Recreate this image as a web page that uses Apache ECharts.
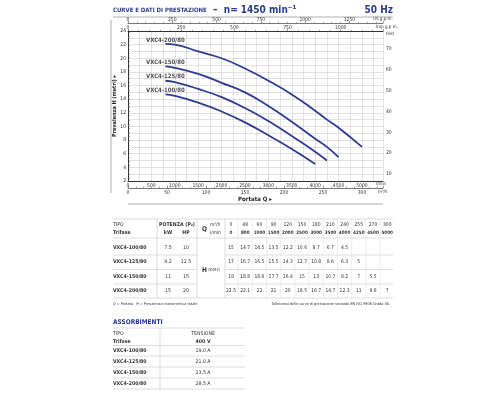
<!DOCTYPE html>
<html><head><meta charset="utf-8">
<script src="https://cdn.jsdelivr.net/npm/echarts@6/dist/echarts.min.js"></script>
<style>html,body{margin:0;padding:0;background:#fff}#c{width:500px;height:400px}</style>
</head><body><div id="c"></div>
<script>
// ---- data ----
const qLmin = [0, 800, 1000, 1500, 2000, 2500, 3000, 3500, 4000, 4250, 4500, 5000];
const qM3h = [0, 48, 60, 90, 120, 150, 180, 210, 240, 255, 270, 300];
const models = ['VXC4-100/80', 'VXC4-125/80', 'VXC4-150/80', 'VXC4-200/80'];
const powerKW = ['7.5', '9.2', '11', '15'];
const powerHP = ['10', '12.5', '15', '20'];
const h100 = [15, 14.7, 14.5, 13.5, 12.2, 10.6, 8.7, 6.7, 4.5];
const h125 = [17, 16.7, 16.5, 15.5, 14.3, 12.7, 10.8, 8.6, 6.3, 5];
const h150 = [19, 18.8, 18.6, 17.7, 16.4, 15, 13, 10.7, 8.2, 7, 5.5];
const h200 = [22.5, 22.1, 22, 21, 20, 18.5, 16.7, 14.7, 12.3, 11, 9.8, 7];
const currents = ['19.0 A', '21.0 A', '23.5 A', '28.5 A'];
const feetTicks = [10, 20, 30, 40, 50, 60, 70];

const heads = [h100, h125, h150, h200];
const FONT = "'Liberation Sans Narrow','DejaVu Sans Condensed','Liberation Sans',sans-serif";
const BLUE = '#2b3a8c';
const CURVE = '#2e3b91';
const TXT = '#333';
const XMAX = 5450;
const FT = 3.28084;

const chart = echarts.init(document.getElementById('c'), null, {renderer: 'canvas'});

const curveSeries = heads.map((h, k) => ({
  type: 'line', name: models[k], xAxisIndex: 0, yAxisIndex: 0,
  data: h.slice(1).map((v, i) => [qLmin[i + 1], v]),
  showSymbol: false, smooth: 0.5, lineStyle: {color: CURVE, width: 1.8}, silent: true, z: 5
}));
const labelSeries = {
  type: 'scatter', xAxisIndex: 0, yAxisIndex: 0, symbolSize: 0, silent: true,
  data: heads.map((h, k) => ({value: [qLmin[1], h[1]], name: models[k]})),
  label: {show: true, position: 'inside', offset: [0, -4], formatter: p => p.name,
    fontFamily: FONT, fontSize: 6, fontWeight: 'bold', color: '#222'}
};

const gridLine = {show: true, lineStyle: {color: '#cfcfcf', width: 0.6}};
const lab = (m) => ({fontFamily: FONT, fontSize: 5, color: TXT, margin: m, formatter: v => String(v)});

// ---- tables (graphic text built from arrays) ----
const g = [];
function T(x, y, s, o) {
  g.push(Object.assign({type: 'text', x: x, y: y, silent: true,
    style: Object.assign({text: s, fontFamily: FONT, fontSize: 5.2, fill: TXT, align: 'left', verticalAlign: 'middle'}, o || {})}));
}
function L(x1, y1, x2, y2, c, w) {
  g.push({type: 'line', silent: true, shape: {x1: x1, y1: y1, x2: x2, y2: y2}, style: {stroke: c || '#c8c8c8', lineWidth: w || 0.6}});
}
// header
T(113, 10, '{a|CURVE E DATI DI PRESTAZIONE}{b|  –  n= 1450 min⁻¹}', {rich: {
  a: {fontFamily: FONT, fontSize: 6, fontWeight: 'bold', fill: BLUE},
  b: {fontFamily: FONT, fontSize: 10, fontWeight: 'bold', fill: BLUE}}});
T(393, 10, '50 Hz', {fontSize: 10, fontWeight: 'bold', fill: BLUE, align: 'right'});
L(113, 17, 393, 17, '#9a9a9a', 0.8);
L(111, 20, 111, 193, '#9a9a9a', 0.8);
L(128, 204, 383, 204, '#9a9a9a', 0.8);
T(255, 199, 'Portata Q ▸', {fontSize: 6, fontWeight: 'bold', align: 'center', fill: '#222'});
g.push({type: 'text', x: 115, y: 106, rotation: Math.PI / 2, silent: true,
  style: {text: 'Prevalenza H (metri) ▸', fontFamily: FONT, fontSize: 5.5, fontWeight: 'bold', fill: '#222', align: 'center', verticalAlign: 'middle'}});
T(386, 34, 'feet', {fontSize: 4.5});
T(376, 184, 'l/min', {fontSize: 4.5});
T(378, 192, 'm³/h', {fontSize: 4.5});
T(373, 19, 'US g.p.m.', {fontSize: 4.5});
T(376, 27, 'Imp g.p.m.', {fontSize: 4.5});

// main table
const colX = qLmin.map((_, i) => 231 + i * 14.2);
const rowY = [248, 262, 277, 291];
L(113, 219, 393, 219);
L(113, 238, 393, 238);
T(113, 225, 'TIPO');
T(113, 233, 'Trifase', {fontWeight: 'bold'});
T(177, 225, 'POTENZA (P₂)', {align: 'center', fontWeight: 'bold'});
T(168, 233, 'kW', {align: 'center', fontWeight: 'bold'});
T(186, 233, 'HP', {align: 'center', fontWeight: 'bold'});
T(202, 229, 'Q', {fontWeight: 'bold', fontSize: 6.5});
T(210, 225, 'm³/h', {fontSize: 4.8});
T(210, 233, 'l/min', {fontSize: 4.8});
T(202, 270, '{h|H} metri', {fontSize: 4.8, rich: {h: {fontFamily: FONT, fontWeight: 'bold', fontSize: 6.5, fill: TXT}}});
qM3h.forEach((v, i) => T(colX[i], 225, String(v), {align: 'center', fontSize: 5}));
qLmin.forEach((v, i) => T(colX[i], 233, String(v), {align: 'center', fontWeight: 'bold', fontSize: 4.6}));
models.forEach((m, k) => {
  T(113, rowY[k], m, {fontWeight: 'bold'});
  T(168, rowY[k], powerKW[k], {align: 'center'});
  T(186, rowY[k], powerHP[k], {align: 'center'});
  heads[k].forEach((v, i) => T(colX[i], rowY[k], String(v), {align: 'center', fontSize: 5}));
  if (k < models.length - 1) {
    const yl = (rowY[k] + rowY[k + 1]) / 2;
    L(113, yl, 197, yl); L(225, yl, 393, yl);
  }
});
L(113, 298, 393, 298);
L(157, 219, 157, 298);
L(197, 219, 197, 298);
L(225, 219, 225, 298);
colX.slice(0, -1).forEach(x => L(x + 7.1, 219, x + 7.1, 298, '#dcdcdc', 0.5));
T(113, 304, 'Q = Portata   H = Prevalenza manometrica totale', {fontSize: 3.8});
T(390, 304, 'Tolleranza delle curve di prestazione secondo EN ISO 9906 Grado 3B.', {fontSize: 3.8, align: 'right'});

// second table
T(113, 322, 'ASSORBIMENTI', {fontSize: 6.5, fontWeight: 'bold', fill: BLUE});
L(113, 328, 245, 328);
T(113, 334, 'TIPO');
T(113, 342, 'Trifase', {fontWeight: 'bold'});
T(203, 334, 'TENSIONE', {align: 'center'});
T(203, 342, '400 V', {align: 'center', fontWeight: 'bold'});
L(113, 345.5, 245, 345.5);
const r2 = [350.5, 361.5, 372.5, 383.5];
models.forEach((m, k) => {
  T(113, r2[k], m, {fontWeight: 'bold'});
  T(203, r2[k], currents[k], {align: 'center'});
  L(113, r2[k] + 5.5, 245, r2[k] + 5.5);
});
L(160, 328, 160, 389);

const option = {
  animation: false,
  grid: {left: 128, top: 31, width: 255, height: 150, containLabel: false},
  xAxis: [
    {type: 'value', position: 'bottom', min: 0, max: XMAX, interval: 500,
      axisLine: {show: true, lineStyle: {color: '#333', width: 1}}, axisTick: {show: false},
      axisLabel: Object.assign(lab(2), {showMaxLabel: false}),
      splitLine: gridLine, minorTick: {show: false, splitNumber: 2}, minorSplitLine: gridLine},
    {type: 'value', position: 'bottom', offset: 7, min: 0, max: XMAX * 0.06, interval: 50,
      axisLine: {show: true, onZero: false, lineStyle: {color: '#555', width: 0.8}},
      axisTick: {show: true, inside: true, length: 2.5, lineStyle: {color: '#555', width: 0.6}},
      minorTick: {show: true, splitNumber: 5, length: 1.5, lineStyle: {color: '#555', width: 0.5}},
      axisLabel: Object.assign(lab(2), {showMaxLabel: false}), splitLine: {show: false}},
    {type: 'value', position: 'top', min: 0, max: XMAX / 4.54609, interval: 250,
      axisLine: {show: true, lineStyle: {color: '#333', width: 1}},
      axisTick: {show: true, length: 2, lineStyle: {color: '#555', width: 0.6}},
      minorTick: {show: true, splitNumber: 5, length: 1.2, lineStyle: {color: '#555', width: 0.5}},
      axisLabel: Object.assign(lab(1), {showMaxLabel: false}), splitLine: {show: false}},
    {type: 'value', position: 'top', offset: 8, min: 0, max: XMAX / 3.78541, interval: 250,
      axisLine: {show: true, onZero: false, lineStyle: {color: '#555', width: 0.8}},
      axisTick: {show: true, length: 2, lineStyle: {color: '#555', width: 0.6}},
      minorTick: {show: true, splitNumber: 5, length: 1.2, lineStyle: {color: '#555', width: 0.5}},
      axisLabel: Object.assign(lab(1), {showMaxLabel: false}), splitLine: {show: false}}
  ],
  yAxis: [
    {type: 'value', position: 'left', min: 2, max: 24, interval: 2,
      axisLine: {show: true, lineStyle: {color: '#333', width: 1}}, axisTick: {show: false},
      axisLabel: lab(2), splitLine: gridLine,
      minorTick: {show: false, splitNumber: 2}, minorSplitLine: gridLine},
    {type: 'value', position: 'right', min: 2 * FT, max: 24 * FT,
      axisLine: {show: true, lineStyle: {color: '#333', width: 1}},
      axisTick: {show: true, length: 2, customValues: Array.from({length: 36}, (_, i) => 8 + i * 2), lineStyle: {color: '#555', width: 0.6}},
      axisLabel: Object.assign(lab(3), {customValues: feetTicks}), splitLine: {show: false}}
  ],
  series: curveSeries.concat([labelSeries]),
  graphic: {elements: g}
};
chart.setOption(option);
</script></body></html>
